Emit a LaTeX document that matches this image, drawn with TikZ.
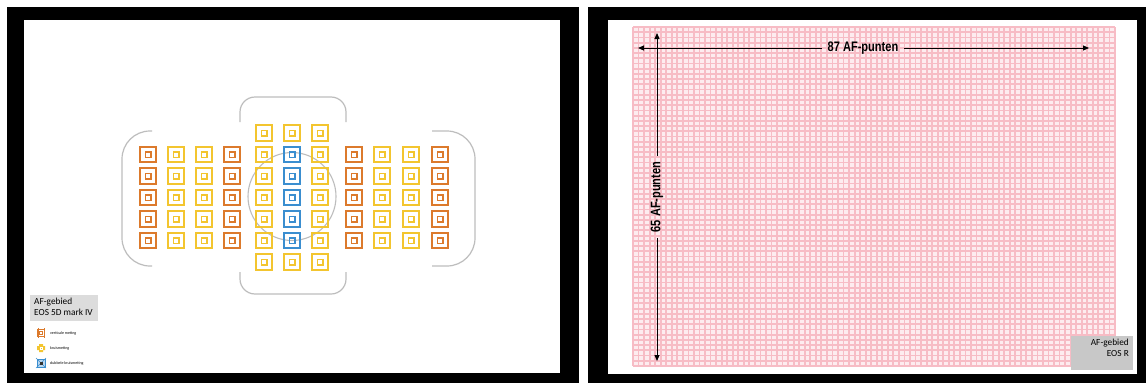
\documentclass[tikz,border=0pt]{standalone}
\usepackage{fontspec}
\setmainfont{Carlito}
\newfontfamily\condfont[FakeStretch=0.8]{Liberation Sans}
\usetikzlibrary{arrows.meta}
\definecolor{afor}{HTML}{DC7A2C}
\definecolor{afye}{HTML}{F3C52F}
\definecolor{afbl}{HTML}{3A8ED0}
\definecolor{brk}{HTML}{BDBDBD}
\definecolor{pinkbg}{HTML}{FDECEF}
\definecolor{pinkln}{HTML}{F7BCC5}
\definecolor{lbox}{HTML}{DCDCDC}
\definecolor{rbox}{HTML}{C8C8C8}
\tikzset{
  afouter/.style={draw=#1, line width=2.1pt, minimum size=15.5pt, inner sep=0pt, rectangle},
  afinner/.style={draw=#1, line width=1.5pt, minimum size=5.5pt, inner sep=0pt, rectangle},
  bracket/.style={draw=brk, line width=1.2pt, rounded corners=#1},
  dimarrow/.style={line width=1pt, -{Triangle[length=6pt,width=5pt]}},
  dimlabel/.style={font=\condfont\bfseries\fontsize{13.8}{14}\selectfont, inner sep=6pt},
  infobox/.style={font=\fontsize{9.3}{10.5}\selectfont, inner sep=3pt},
  legtext/.style={font=\fontsize{4}{5}\selectfont, anchor=west, inner sep=0pt}
}
\begin{document}
\begin{tikzpicture}[x=1pt,y=-1pt]
\useasboundingbox (0,0) rectangle (1146,383);
% panels
\fill[black] (7,7) rectangle (579,383);
\fill[white] (24,20) rectangle (560,373);
\fill[black] (588,7) rectangle (1146,383);
\fill[white] (608,20) rectangle (1137,374);

% ---------- left panel ----------
% brackets
\draw[bracket=15] (240,122) -- (240,97) -- (346,97) -- (346,122);
\draw[bracket=15] (240,272) -- (240,294) -- (346,294) -- (346,272);
\draw[bracket=28] (152,131) -- (122,131) -- (122,266) -- (152,266);
\draw[bracket=28] (432,131) -- (475,131) -- (475,266) -- (432,266);
\draw[brk, line width=1.1pt] (292,196.5) circle [radius=44];

% left group
\foreach \x/\c [count=\j] in {148/afor,176/afye,204/afye,232/afor}{
  \foreach \k in {1,...,5}{
    \node[afouter=\c] (L\j-\k) at (\x,133+\k*21.5) {};
    \node[afinner=\c] (Li\j-\k) at (L\j-\k.center) {};
  }
}
% right group
\foreach \x/\c [count=\j] in {354/afor,382/afye,411/afye,440/afor}{
  \foreach \k in {1,...,5}{
    \node[afouter=\c] (R\j-\k) at (\x,133+\k*21.5) {};
    \node[afinner=\c] (Ri\j-\k) at (R\j-\k.center) {};
  }
}
% center group
\foreach \x [count=\j] in {264,292,320}{
  \foreach \k in {0,...,6}{
    \pgfmathsetmacro{\isblue}{(\j==2 && \k>0 && \k<6) ? 1 : 0}
    \ifdim\isblue pt>0.5pt
      \node[afouter=afbl] (C\j-\k) at (\x,133+\k*21.5) {};
      \node[afinner=afbl] (Ci\j-\k) at (C\j-\k.center) {};
    \else
      \node[afouter=afye] (C\j-\k) at (\x,133+\k*21.5) {};
      \node[afinner=afye] (Ci\j-\k) at (C\j-\k.center) {};
    \fi
  }
}

% info box
\fill[lbox] (30,295) rectangle (98,321);
\node[infobox, anchor=north west, align=left] (lbl5d) at (31,295) {AF-gebied\\EOS 5D mark IV};

% legend
\node[draw=afor, line width=0.9pt, minimum size=7pt, inner sep=0pt] (lg1) at (41,333) {};
\node[draw=afor, line width=0.6pt, minimum size=2.5pt, inner sep=0pt] (lg1i) at (lg1.center) {};
\draw[afor, line width=0.6pt] (38,328) -- (38,338) (44,328) -- (44,338);
\node[legtext] (lt1) at (50,333) {verticale meting};

\fill[afye] (39,344) rectangle (43,352) (37,346) rectangle (45,350);
\node[draw=white, line width=0.5pt, minimum size=2.5pt, inner sep=0pt] (lg2) at (41,348) {};
\node[legtext] (lt2) at (50,348) {kruismeting};

\node[draw=afbl, fill=afbl!35, line width=0.9pt, minimum size=8pt, inner sep=0pt] (lg3) at (41,363) {};
\draw[afbl, line width=0.6pt] (36,358) -- (46,368) (36,368) -- (46,358);
\node[fill=black!80, minimum size=3pt, inner sep=0pt] (lg3i) at (lg3.center) {};
\node[legtext] (lt3) at (50,363) {dubbele kruismeting};

% ---------- right panel ----------
\fill[pinkbg] (633,27) rectangle (1115,366);
\foreach \i in {0,...,87}{
  \draw[pinkln, line width=1.8pt] (633+\i*5.54,27) -- (633+\i*5.54,366);
}
\foreach \i in {0,...,65}{
  \draw[pinkln, line width=1.8pt] (633,27+\i*5.215) -- (1115,27+\i*5.215);
}

\coordinate (hl) at (638,48);
\coordinate (hr) at (1089,48);
\node[dimlabel] (h87) at (863,48) {87 AF-punten};
\draw[dimarrow] (h87) -- (hl);
\draw[dimarrow] (h87) -- (hr);

\coordinate (vt) at (657,33);
\coordinate (vb) at (657,361);
\node[dimlabel, rotate=90] (v65) at (657,197) {65 AF-punten};
\draw[dimarrow] (v65) -- (vt);
\draw[dimarrow] (v65) -- (vb);

\fill[rbox] (1071,336) rectangle (1133,370);
\node[infobox, anchor=north east, align=right] (lblr) at (1132,336) {AF-gebied\\EOS R};
\end{tikzpicture}
\end{document}
